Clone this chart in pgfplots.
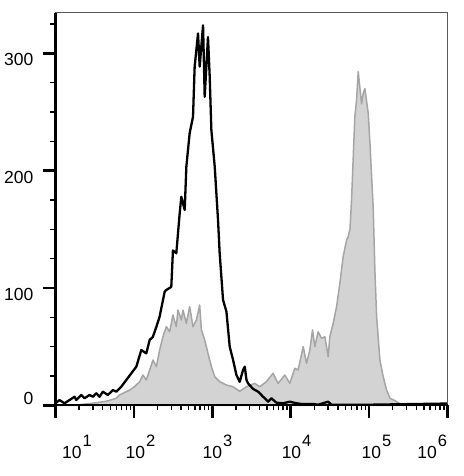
\documentclass[border=0pt]{standalone}
\usepackage{fontspec}
\setmainfont{Liberation Sans}
\usepackage{pgfplots}
\pgfplotsset{compat=1.18}
\definecolor{fillgray}{RGB}{211,211,211}
\definecolor{edgegray}{RGB}{165,165,165}
\definecolor{framegray}{RGB}{90,90,90}
% decade label: the "10" is centred on the tick, the exponent hangs to the right
\newcommand{\dec}[1]{10\rlap{\kern1pt\raisebox{12.5pt}{\fontsize{16.5}{17}\selectfont #1}}}

\begin{document}
\begin{tikzpicture}
\begin{axis}[
    scale only axis, width=392pt, height=392.6pt,
    xmin=1, xmax=6, ymin=0, ymax=334.7,
    clip=false,
    axis x line*=bottom, axis y line*=left,
    axis line style={line width=2pt, black},
    tick align=outside,
    major tick length=12.5pt, minor tick length=5pt,
    every major tick/.append style={line width=2.6pt, black},
    every minor tick/.append style={line width=1.3pt, black},
    tick label style={font=\fontsize{17.5}{20}\selectfont},
    xtick={1,2,3,4,5,6}, xticklabels={},
    minor xtick={1.301,1.477,1.602,1.699,1.778,1.845,1.903,1.954,
                 2.301,2.477,2.602,2.699,2.778,2.845,2.903,2.954,
                 3.301,3.477,3.602,3.699,3.778,3.845,3.903,3.954,
                 4.301,4.477,4.602,4.699,4.778,4.845,4.903,4.954,
                 5.301,5.477,5.602,5.699,5.778,5.845,5.903,5.954},
    extra x ticks={1.21,2.02,3.0,4.01,5.03,5.74},
    extra x tick labels={\dec1,\dec2,\dec3,\dec4,\dec5,\dec6},
    extra x tick style={major tick style={draw=none}},
    xticklabel style={anchor=base, yshift=-41pt},
    ytick={100,200,300}, yticklabels={100,200,300},
    minor ytick={25,50,75,125,150,175,225,250,275,325},
    yticklabel style={anchor=north east, inner sep=0pt, xshift=-9.5pt},
    extra y ticks={0}, extra y tick labels={0},
    extra y tick style={yticklabel style={anchor=south east}},
]
% sample (filled grey)
\addplot[fill=fillgray, draw=edgegray, line width=1.5pt, line join=round] table {
1.000 0
1.300 0.5
1.500 2
1.650 3.5
1.775 6
1.817 8.8
1.945 13.0
2.009 15.9
2.073 20.1
2.115 25.8
2.158 21.6
2.201 30.1
2.243 38.6
2.287 32.9
2.328 47.1
2.370 58.5
2.414 67.0
2.456 62.7
2.498 77.0
2.541 67.0
2.562 81.2
2.605 72.7
2.626 81.2
2.669 69.9
2.711 84.1
2.754 67.0
2.797 72.7
2.839 85.5
2.861 64.2
2.903 55.7
2.945 44.3
2.989 32.9
3.031 24.4
3.095 20.1
3.180 17.3
3.261 15.9
3.350 12
3.436 15.9
3.541 18.7
3.605 15.9
3.690 20.1
3.775 27.3
3.839 18.7
3.925 25.8
3.989 18.7
4.052 31.5
4.095 30.1
4.159 50
4.202 35.8
4.244 47.1
4.278 64.2
4.308 50
4.350 62.7
4.393 57.1
4.436 58.5
4.478 41.4
4.499 58.5
4.542 69.9
4.585 84.1
4.627 104
4.669 126.7
4.713 141
4.733 143.7
4.756 150
4.776 175
4.818 246
4.840 260
4.861 284.4
4.904 257
4.925 266
4.946 270
4.989 249
5.011 223
5.052 169
5.074 115
5.096 75.5
5.138 38.6
5.180 24.4
5.223 13
5.266 6
5.330 4
5.400 1
5.500 0.3
6.000 0.5
} \closedcycle;
% isotype control (black line)
\addplot[black, line width=2.3pt, line join=round] table {
1.000 1.7
1.050 4.5
1.115 1.7
1.179 4.5
1.243 7.3
1.264 4.5
1.328 8.8
1.371 6.0
1.434 8.8
1.477 7.3
1.520 10.2
1.562 7.3
1.604 11.6
1.668 8.8
1.732 13.0
1.775 11.6
1.839 15.9
1.903 21.6
1.967 27.3
2.031 32.9
2.094 47.1
2.158 44.3
2.201 55.7
2.243 58.5
2.287 67.0
2.328 75.5
2.371 89.8
2.392 96.8
2.414 98.3
2.477 101
2.498 132
2.541 129.6
2.584 163.7
2.605 177.8
2.648 166.5
2.669 203.4
2.711 231.9
2.754 246
2.775 288.7
2.818 317
2.839 288.7
2.882 324
2.903 263
2.945 314
2.967 280
2.988 234.7
3.031 203.4
3.073 158
3.094 129.6
3.137 89.8
3.180 80
3.222 50
3.265 38.6
3.307 26
3.350 20
3.392 30.1
3.414 33
3.436 21.6
3.456 18.7
3.520 14
3.584 11.6
3.648 7.3
3.712 3.1
3.754 6.0
3.818 2.2
3.903 1.7
3.989 3.1
4.074 1.7
4.138 1.1
4.286 1.1
4.350 0.5
4.478 3.1
4.520 0.5
5.000 0.5
6.000 1.5
};
\draw[framegray, line width=0.9pt] (rel axis cs:0,1) -- (rel axis cs:1,1) -- (rel axis cs:1,0);
\draw[black, line width=2.2pt] (rel axis cs:0,1) -- (rel axis cs:0,0) -- (rel axis cs:1,0);
\end{axis}
\pgfresetboundingbox
\path[use as bounding box] (-55.5pt,-70.7pt) rectangle (407.5pt,405.3pt);
\end{tikzpicture}
\end{document}
